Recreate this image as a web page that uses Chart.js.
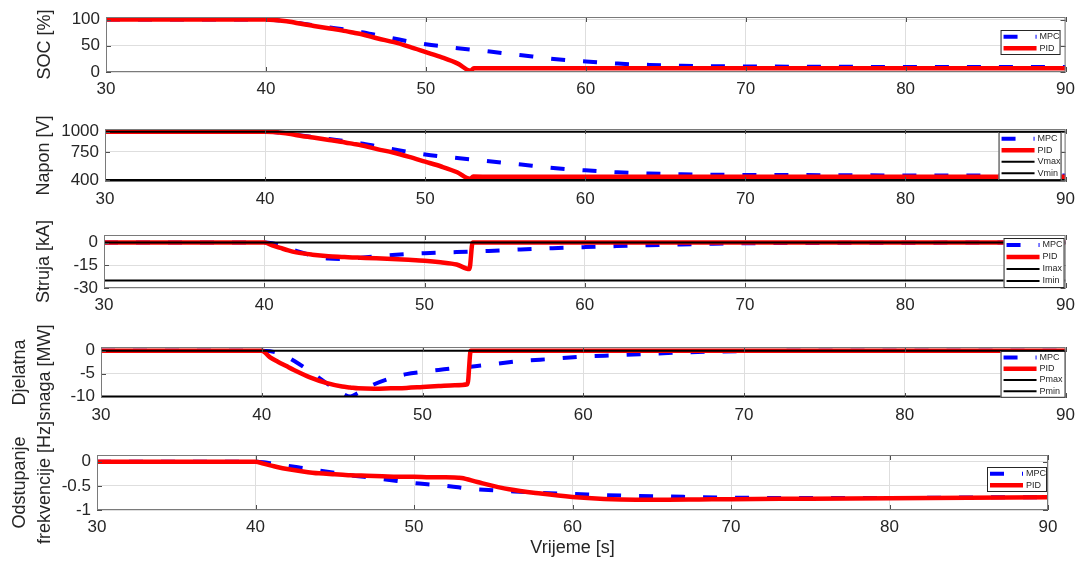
<!DOCTYPE html>
<html>
<head>
<meta charset="utf-8">
<title>MPC / PID</title>
<script src="https://cdn.jsdelivr.net/npm/chart.js@4.4.1/dist/chart.umd.min.js"></script>
<style>
  html, body { margin: 0; padding: 0; background: #fff; }
  #holder { position: relative; width: 1082px; height: 561px; overflow: hidden; }
  #holder canvas { position: absolute; left: 0; }
</style>
</head>
<body>
<div id="holder"></div>
<script>
// Shared time axis [s]
const timeS = [30, 40, 40.5, 41, 41.5, 42, 43, 44, 45, 45.5, 46, 47, 48, 49, 50, 51, 52, 52.8, 53,
               54, 56, 58, 60, 62, 64, 66, 68, 70, 75, 80, 85, 90];
const xTicks = [30, 40, 50, 60, 70, 80, 90];

// SOC [%]
const socMPC = [100, 100, 99.5, 98, 96, 93.5, 89, 85, 81, 78.5, 76, 70, 64, 58, 53, 49, 45.5, 43, 42.5,
                39, 32, 25, 20, 16, 13.5, 12, 11, 10.5, 10, 9.5, 9.5, 9.5];
const socPID = [100, 100, 99.5, 98, 96, 93, 88, 83, 78, 75, 72, 64, 57, 48, 38, 28, 16, 2.5, 7,
                7, 7, 7, 7, 7, 7, 7, 7, 7, 7, 7, 7, 7];
const socTicks = [0, 50, 100];

// Napon [V]
const naponMPC = [1000, 1000, 997, 988, 976, 961, 934, 910, 886, 871, 856, 820, 784, 748, 718, 694, 673, 658, 655,
                  634, 592, 550, 520, 496, 481, 472, 466, 463, 460, 457, 457, 457];
const naponPID = [1000, 1000, 997, 988, 976, 958, 928, 898, 868, 850, 832, 784, 742, 688, 628, 568, 496, 415, 442,
                  441, 440, 440, 440, 440, 440, 440, 440, 440, 440, 440, 440, 440];
const naponTicks = [400, 750, 1000];
const naponLimits = [1000, 400];

// Struja [kA]
const strujaMPC = [0, 0, -0.5, -2, -3.5, -5.5, -8.5, -10.5, -10.8, -10.5, -10, -9, -8.2, -7.5, -7, -6.6, -6.3, -6, -5.9,
                   -5.5, -4.5, -3.7, -3, -2.3, -1.7, -1.2, -0.8, -0.5, -0.2, -0.1, 0, 0];
const strujaPID = [0, 0, -1.8, -3.5, -5.2, -6.5, -8, -9, -9.5, -9.8, -10, -10.4, -10.9, -11.4, -12, -13, -14.5, -17.5, 0,
                   0, 0, 0, 0, 0, 0, 0, 0, 0, 0, 0, 0, 0];
const strujaTicks = [-30, -15, 0];
const strujaLimits = [0, -25];

// Djelatna snaga [MW]
const snagaMPC = [0, 0, -0.1, -0.5, -1.2, -2.2, -4.5, -7, -9.3, -10, -9.2, -7.3, -6, -5.1, -4.6, -4.2, -3.8, -3.6, -3.5,
                  -3.1, -2.3, -1.8, -1.3, -1, -0.7, -0.4, -0.2, -0.1, 0, 0, 0, 0];
const snagaPID = [0, 0, -1.4, -2.4, -3.3, -4.2, -5.8, -7, -7.8, -8, -8.2, -8.3, -8.2, -8.1, -7.9, -7.7, -7.5, -7.3, 0,
                  0, 0, 0, 0, 0, 0, 0, 0, 0, 0, 0, 0, 0];
const snagaTicks = [-10, -5, 0];
const snagaLimits = [0, -10];

// Odstupanje frekvencije [Hz]
const freqMPC = [0, 0, -0.01, -0.03, -0.05, -0.08, -0.13, -0.18, -0.23, -0.255, -0.28, -0.32, -0.36, -0.4, -0.44, -0.47, -0.5, -0.53, -0.54,
                 -0.57, -0.61, -0.645, -0.665, -0.69, -0.71, -0.72, -0.735, -0.745, -0.75, -0.75, -0.74, -0.735];
const freqPID = [0, 0, -0.04, -0.08, -0.12, -0.15, -0.2, -0.24, -0.26, -0.27, -0.28, -0.29, -0.3, -0.31, -0.31, -0.32, -0.32, -0.33, -0.335,
                 -0.42, -0.57, -0.66, -0.73, -0.77, -0.785, -0.785, -0.78, -0.775, -0.765, -0.755, -0.745, -0.735];
const freqTicks = [-1, -0.5, 0];


Chart.defaults.font.family = '"Liberation Sans", Arial, Helvetica, sans-serif';
Chart.defaults.color = '#262626';

// One entry per subplot; plot = [left, right, top, bottom] in page pixels
const panels = [
    { title: 'SOC [%]', mpc: socMPC, pid: socPID, ticks: socTicks, min: 0, max: 105,
      top: 0, height: 108, plot: [106, 1072, 17, 72], titlePad: 34,
      legend: { right: 5, top: 13, width: 60, rowH: 11.5 } },
    { title: 'Napon [V]', mpc: naponMPC, pid: naponPID, ticks: naponTicks, min: 375, max: 1035,
      limits: naponLimits, limitNames: ['Vmax', 'Vmin'],
      top: 108, height: 108, plot: [105, 1072, 129, 182], titlePad: 33,
      legend: { right: 4, top: 3, width: 63, rowH: 11.5 } },
    { title: 'Struja [kA]', mpc: strujaMPC, pid: strujaPID, ticks: strujaTicks, min: -30, max: 5,
      limits: strujaLimits, limitNames: ['Imax', 'Imin'],
      top: 216, height: 110, plot: [104, 1070, 235, 288], titlePad: 33,
      legend: { right: 1, top: 3, width: 61, rowH: 12 } },
    { title: ['Djelatna', 'snaga [MW]'], mpc: snagaMPC, pid: snagaPID, ticks: snagaTicks, min: -10.3, max: 0.8,
      limits: snagaLimits, limitNames: ['Pmax', 'Pmin'],
      top: 300, height: 130, plot: [101, 1067, 347, 398], titlePad: 7.5,
      legend: { right: 0, top: 4, width: 65, rowH: 11.2 } },
    { title: ['Odstupanje', 'frekvencije [Hz]'], mpc: freqMPC, pid: freqPID, ticks: freqTicks, min: -1, max: 0.14,
      top: 410, height: 151, plot: [97, 1048, 455, 510], titlePad: 7.5, xTitle: 'Vrijeme [s]',
      legend: { right: 1, top: 12, width: 60, rowH: 11.5 } }
];


function toPoints(values) {
    return values.map((v, i) => ({ x: timeS[i], y: v }));
}


// Axes box, inward tick marks and the boxed legend inside the plot
const frameAndLegend = {
    id: 'frameAndLegend',
    afterDatasetsDraw(chart, args, opts) {
        const { ctx, chartArea: a, scales } = chart;
        ctx.save();

        ctx.strokeStyle = '#4d4d4d';
        ctx.lineWidth = 1;
        ctx.beginPath();
        xTicks.forEach(v => {
            const x = Math.round(scales.x.getPixelForValue(v)) + 0.5;
            ctx.moveTo(x, a.top); ctx.lineTo(x, a.top + 5);
            ctx.moveTo(x, a.bottom); ctx.lineTo(x, a.bottom - 5);
        });
        opts.yTicks.forEach(v => {
            const y = Math.round(scales.y.getPixelForValue(v)) + 0.5;
            ctx.moveTo(a.left, y); ctx.lineTo(a.left + 5, y);
            ctx.moveTo(a.right, y); ctx.lineTo(a.right - 5, y);
        });
        ctx.stroke();

        ctx.strokeStyle = '#7a7a7a';
        ctx.strokeRect(a.left + 0.5, a.top + 0.5, a.right - a.left - 1, a.bottom - a.top - 1);

        const lg = opts.box;
        const items = chart.data.datasets;
        const h = items.length * lg.rowH + 2;
        const x0 = a.right - lg.right - lg.width;
        const y0 = a.top + lg.top;
        ctx.fillStyle = '#fff';
        ctx.fillRect(x0, y0, lg.width, h);
        ctx.strokeStyle = '#262626';
        ctx.strokeRect(x0 + 0.5, y0 + 0.5, lg.width - 1, h - 1);
        items.forEach((ds, i) => {
            const cy = y0 + 1 + lg.rowH * (i + 0.5);
            ctx.beginPath();
            ctx.setLineDash(ds.borderDash || []);
            ctx.lineWidth = ds.borderWidth;
            ctx.strokeStyle = ds.borderColor;
            ctx.moveTo(x0 + 3, cy);
            ctx.lineTo(x0 + 36, cy);
            ctx.stroke();
            ctx.setLineDash([]);
            ctx.fillStyle = '#262626';
            ctx.font = '9px "Liberation Sans", Arial, sans-serif';
            ctx.textBaseline = 'middle';
            ctx.textAlign = 'left';
            ctx.fillText(ds.label, x0 + 39, cy);
        });
        ctx.restore();
    }
};


function panelConfig(p) {
    const padTop = p.plot[2] - p.top;
    const plotH = p.plot[3] - p.plot[2];
    const twoLines = Array.isArray(p.title);

    const datasets = [
        { label: 'MPC', data: toPoints(p.mpc), borderColor: '#0000ff', borderWidth: 4, borderDash: [14, 18], order: 4 },
        { label: 'PID', data: toPoints(p.pid), borderColor: '#ff0000', borderWidth: 4.5, order: 3 }
    ];
    if (p.limits) {
        p.limits.forEach((v, i) => datasets.push({
            label: p.limitNames[i],
            data: [{ x: xTicks[0], y: v }, { x: xTicks[xTicks.length - 1], y: v }],
            borderColor: '#000000',
            borderWidth: 2,
            order: 2 - i
        }));
    }

    return {
        type: 'line',
        data: { datasets: datasets },
        options: {
            responsive: false,
            animation: false,
            devicePixelRatio: 1,
            layout: { padding: { top: padTop, right: 1082 - p.plot[1], bottom: 0, left: 0 } },
            elements: {
                point: { radius: 0 },
                line: { fill: false, cubicInterpolationMode: 'monotone' }
            },
            scales: {
                x: {
                    type: 'linear',
                    min: xTicks[0],
                    max: xTicks[xTicks.length - 1],
                    afterBuildTicks: s => { s.ticks = xTicks.map(v => ({ value: v })); },
                    afterFit: s => { s.height = p.height - padTop - plotH; },
                    grid: { color: '#dedede', drawTicks: false },
                    border: { display: false },
                    ticks: { padding: 7, font: { size: 17 }, color: '#262626', maxRotation: 0,
                             callback: v => String(v) },
                    title: {
                        display: !!p.xTitle,
                        text: p.xTitle || '',
                        font: { size: 18 },
                        color: '#262626',
                        padding: { top: 0, bottom: 2 }
                    }
                },
                y: {
                    min: p.min,
                    max: p.max,
                    afterBuildTicks: s => { s.ticks = p.ticks.map(v => ({ value: v })); },
                    afterFit: s => { s.width = p.plot[0]; },
                    grid: { color: '#dedede', drawTicks: false },
                    border: { display: false },
                    ticks: { padding: 6, font: { size: 17 }, color: '#262626',
                             callback: v => String(v) },
                    title: {
                        display: true,
                        text: p.title,
                        font: { size: 18, lineHeight: twoLines ? '25px' : 1.2 },
                        color: '#262626',
                        padding: { top: p.titlePad, bottom: 0 }
                    }
                }
            },
            plugins: {
                legend: { display: false },
                tooltip: { enabled: false },
                frameAndLegend: { yTicks: p.ticks, box: p.legend }
            }
        },
        plugins: [frameAndLegend]
    };
}


function buildPanel(p) {
    const holder = document.getElementById('holder');
    const canvas = document.createElement('canvas');
    canvas.width = 1082;
    canvas.height = p.height;
    canvas.style.top = p.top + 'px';
    canvas.style.width = '1082px';
    canvas.style.height = p.height + 'px';
    holder.appendChild(canvas);
    new Chart(canvas.getContext('2d'), panelConfig(p));
}

panels.forEach(buildPanel);
</script>
</body>
</html>
